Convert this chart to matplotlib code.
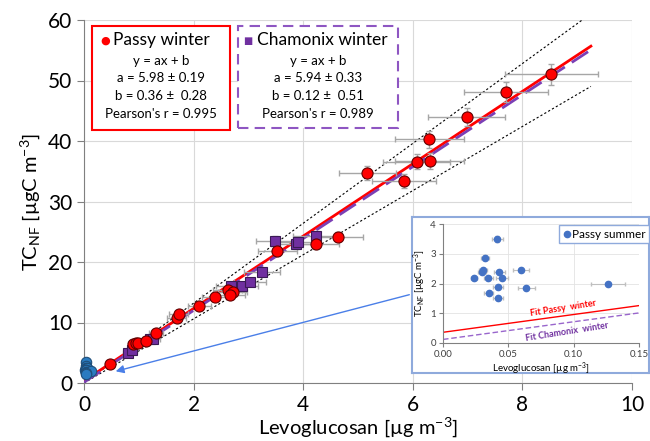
import matplotlib
matplotlib.use("Agg")
import matplotlib.pyplot as plt
from matplotlib.patches import Rectangle
import numpy as np

plt.rcParams['font.family'] = ['Lato', 'DejaVu Sans']
plt.rcParams['mathtext.default'] = 'regular'

# Passy winter (levoglucosan, TC_NF) with uncertainties
passy_x = [0.47, 0.89, 0.94, 0.98, 1.14, 1.31, 1.69, 1.73, 2.10, 2.39, 2.62, 2.71,
           2.66, 3.53, 4.23, 4.64, 5.17, 5.84, 6.07, 6.31, 6.30, 6.98, 7.70, 8.53]
passy_y = [3.1, 6.4, 6.6, 6.6, 6.9, 8.2, 10.8, 11.4, 12.8, 14.2, 15.4, 15.1,
           14.5, 21.8, 22.9, 24.2, 34.7, 33.4, 36.6, 36.7, 40.3, 43.9, 48.1, 51.0]
passy_xerr = [0.05, 0.09, 0.09, 0.10, 0.11, 0.13, 0.17, 0.17, 0.21, 0.24, 0.26, 0.27,
              0.27, 0.35, 0.42, 0.46, 0.52, 0.58, 0.61, 0.63, 0.63, 0.70, 0.77, 0.85]
passy_yerr = [0.2, 0.3, 0.3, 0.3, 0.3, 0.4, 0.5, 0.5, 0.5, 0.6, 0.6, 0.6,
              0.6, 0.8, 0.8, 0.8, 1.2, 1.2, 1.3, 1.3, 1.4, 1.5, 1.7, 1.8]

# Chamonix winter
cham_x = [0.80, 0.87, 1.20, 1.25, 2.68, 2.88, 3.03, 3.25, 3.48, 3.86, 3.91, 4.23]
cham_y = [4.9, 5.45, 7.2, 7.2, 16.1, 16.1, 16.7, 18.4, 23.5, 23.0, 23.3, 24.3]
cham_xerr = [0.08, 0.09, 0.12, 0.13, 0.27, 0.29, 0.30, 0.33, 0.35, 0.39, 0.39, 0.42]
cham_yerr = [0.2, 0.2, 0.3, 0.3, 0.6, 0.6, 0.6, 0.6, 0.8, 0.8, 0.8, 0.8]

# Passy summer
summer_x = [0.0416, 0.0321, 0.0306, 0.0298, 0.0431, 0.0599, 0.0240, 0.0347,
            0.0454, 0.0421, 0.0638, 0.1263, 0.0349, 0.0421]
summer_y = [3.51, 2.87, 2.44, 2.38, 2.38, 2.46, 2.18, 2.18,
            2.18, 1.89, 1.86, 1.99, 1.68, 1.50]
summer_xerr = [0.0042, 0.0032, 0.0031, 0.0030, 0.0043, 0.0060, 0.0024, 0.0035,
               0.0045, 0.0042, 0.0064, 0.0130, 0.0035, 0.0042]
summer_yerr = [0.10, 0.09, 0.07, 0.07, 0.07, 0.07, 0.07, 0.07,
               0.07, 0.07, 0.06, 0.06, 0.06, 0.06]

# fit parameters
passy_fit = (5.98, 0.36)
cham_fit = (5.94, 0.12)
bound_slopes = [6.6, 5.3]
fit_xmax = 9.25

RED = '#FF0000'
PURPLE = '#7030A0'
GREY = '#A6A6A6'

fig = plt.figure(figsize=(6.5, 4.41), dpi=100)
ax = fig.add_axes([84 / 650, 58 / 441, 548 / 650, 363 / 441])

xx = np.array([0, fit_xmax])
for s in bound_slopes:
    ax.plot(xx, s * xx, color='black', lw=0.8, ls=(0, (2, 2)), zorder=2)
ax.plot(xx, passy_fit[0] * xx + passy_fit[1], color=RED, lw=2, zorder=3)
ax.plot(xx, cham_fit[0] * xx + cham_fit[1], color='#7B3FB5', lw=2,
        ls=(0, (7, 3)), zorder=3)

ax.errorbar(cham_x, cham_y, xerr=cham_xerr, yerr=cham_yerr, fmt='none',
            ecolor=GREY, elinewidth=1, capsize=2.5, zorder=4)
ax.errorbar(passy_x, passy_y, xerr=passy_xerr, yerr=passy_yerr, fmt='none',
            ecolor=GREY, elinewidth=1, capsize=2.5, zorder=4)
ax.plot(cham_x, cham_y, 's', ms=7.5, mfc=PURPLE, mec='#3A1A55', mew=0.8, zorder=5)
ax.plot(passy_x, passy_y, 'o', ms=8, mfc=RED, mec='#600000', mew=0.8, zorder=6)
ax.plot(summer_x, summer_y, 'o', ms=7.5, mfc='#2A7BC0', mec='#1F4E79', mew=0.8,
        zorder=6, clip_on=False)

ax.set_xlim(0, 10)
ax.set_ylim(0, 60)
ax.set_xticks(range(0, 11, 2))
ax.set_yticks(range(0, 61, 10))
ax.grid(color='#D9D9D9', lw=0.8)
ax.set_axisbelow(True)
for side in ['top', 'right']:
    ax.spines[side].set_visible(False)
for side in ['left', 'bottom']:
    ax.spines[side].set_color('#808080')
ax.tick_params(colors='#808080', labelcolor='black', labelsize=15, length=5)
ax.set_xlabel('Levoglucosan [µg m$^{-3}$]', fontsize=14.5, labelpad=0)
ax.set_ylabel('TC$_{NF}$ [µgC m$^{-3}$]', fontsize=14.5, labelpad=4)

# fit summary boxes
W, H = 650, 441


def fig_rect(x0, y0, x1, y1, **kw):
    r = Rectangle((x0 / W, 1 - y1 / H), (x1 - x0) / W, (y1 - y0) / H,
                  transform=fig.transFigure, facecolor='white', zorder=10, **kw)
    fig.add_artist(r)


def fig_text(x, y, s, **kw):
    fig.text(x / W, 1 - y / H, s, va='center', zorder=11, **kw)


fig_rect(92, 26, 230, 130, edgecolor=RED, lw=1.5)
fig_rect(238, 26, 398, 128, edgecolor='#8E56C2', lw=1.5, ls=(0, (5, 3)))

fig_text(105, 41, '●', color=RED, fontsize=8, ha='center', family='DejaVu Sans')
fig_text(113, 40, 'Passy winter', fontsize=12.5)
fig_text(248, 41, '■', color=PURPLE, fontsize=7, ha='center', family='DejaVu Sans')
fig_text(257, 40, 'Chamonix winter', fontsize=12.5)

passy_lines = ['y = ax + b', 'a = 5.98 ± 0.19', 'b = 0.36 ±  0.28', "Pearson's r = 0.995"]
cham_lines = ['y = ax + b', 'a = 5.94 ± 0.33', 'b = 0.12 ±  0.51', "Pearson's r = 0.989"]
for i, y in enumerate([61, 78, 96, 114]):
    fig_text(161, y, passy_lines[i], fontsize=9.5, ha='center')
    fig_text(318, y, cham_lines[i], fontsize=9.5, ha='center')

# zoomed view of the summer samples
frame = fig.add_axes([412 / W, 1 - 373 / H, 237 / W, 156 / H], zorder=20)
frame.set_xticks([])
frame.set_yticks([])
for sp in frame.spines.values():
    sp.set_color('#8FAADC')
    sp.set_linewidth(1.5)

ins = fig.add_axes([443 / W, 1 - 343 / H, 196 / W, 119 / H], zorder=21)
ins.errorbar(summer_x, summer_y, xerr=summer_xerr, yerr=summer_yerr, fmt='none',
             ecolor='#BFBFBF', elinewidth=0.8, capsize=1.5, zorder=3)
ins.plot(summer_x, summer_y, 'o', ms=4.5, color='#4472C4', zorder=4,
         label='Passy summer')
xi = np.array([0, 0.15])
ins.plot(xi, passy_fit[0] * xi + passy_fit[1], color=RED, lw=1)
ins.plot(xi, cham_fit[0] * xi + cham_fit[1], color='#9966CC', lw=1, ls=(0, (4, 2)))
ins.text(0.092, 1.18, 'Fit Passy  winter', color=RED, fontsize=6.5,
         fontweight='bold', rotation=9, ha='center', va='center')
ins.text(0.095, 0.37, 'Fit Chamonix  winter', color=PURPLE, fontsize=6.5,
         fontweight='bold', rotation=9, ha='center', va='center')
ins.set_xlim(0, 0.15)
ins.set_ylim(0, 4)
ins.set_xticks([0, 0.05, 0.10, 0.15])
ins.set_xticklabels(['0.00', '0.05', '0.10', '0.15'])
ins.set_yticks(range(0, 5))
ins.grid(color='#E3E3E3', lw=0.6)
ins.set_axisbelow(True)
for side in ['top', 'right']:
    ins.spines[side].set_visible(False)
for side in ['left', 'bottom']:
    ins.spines[side].set_color('#808080')
    ins.spines[side].set_linewidth(0.8)
ins.tick_params(colors='#808080', labelcolor='#404040', labelsize=7, length=3, pad=2)
ins.set_xlabel('Levoglucosan [µg m$^{-3}$]', fontsize=7, labelpad=1)
ins.set_ylabel('TC$_{NF}$ [µgC m$^{-3}$]', fontsize=7, labelpad=2)
leg = ins.legend(loc='upper right', bbox_to_anchor=(1.08, 1.04), fontsize=8.5,
                 handletextpad=0.0, handlelength=0.8, borderpad=0.3,
                 fancybox=False, framealpha=1)
leg.get_frame().set_edgecolor('#8FAADC')

# arrow from the zoom box to the origin region
ax.annotate('', xy=(113, H - 372), xycoords='figure pixels',
            xytext=(412, H - 294), textcoords='figure pixels',
            arrowprops=dict(arrowstyle='-|>', color='#4A7FE8', lw=1,
                            mutation_scale=12), zorder=9)

fig.savefig('out.png', dpi=100)
